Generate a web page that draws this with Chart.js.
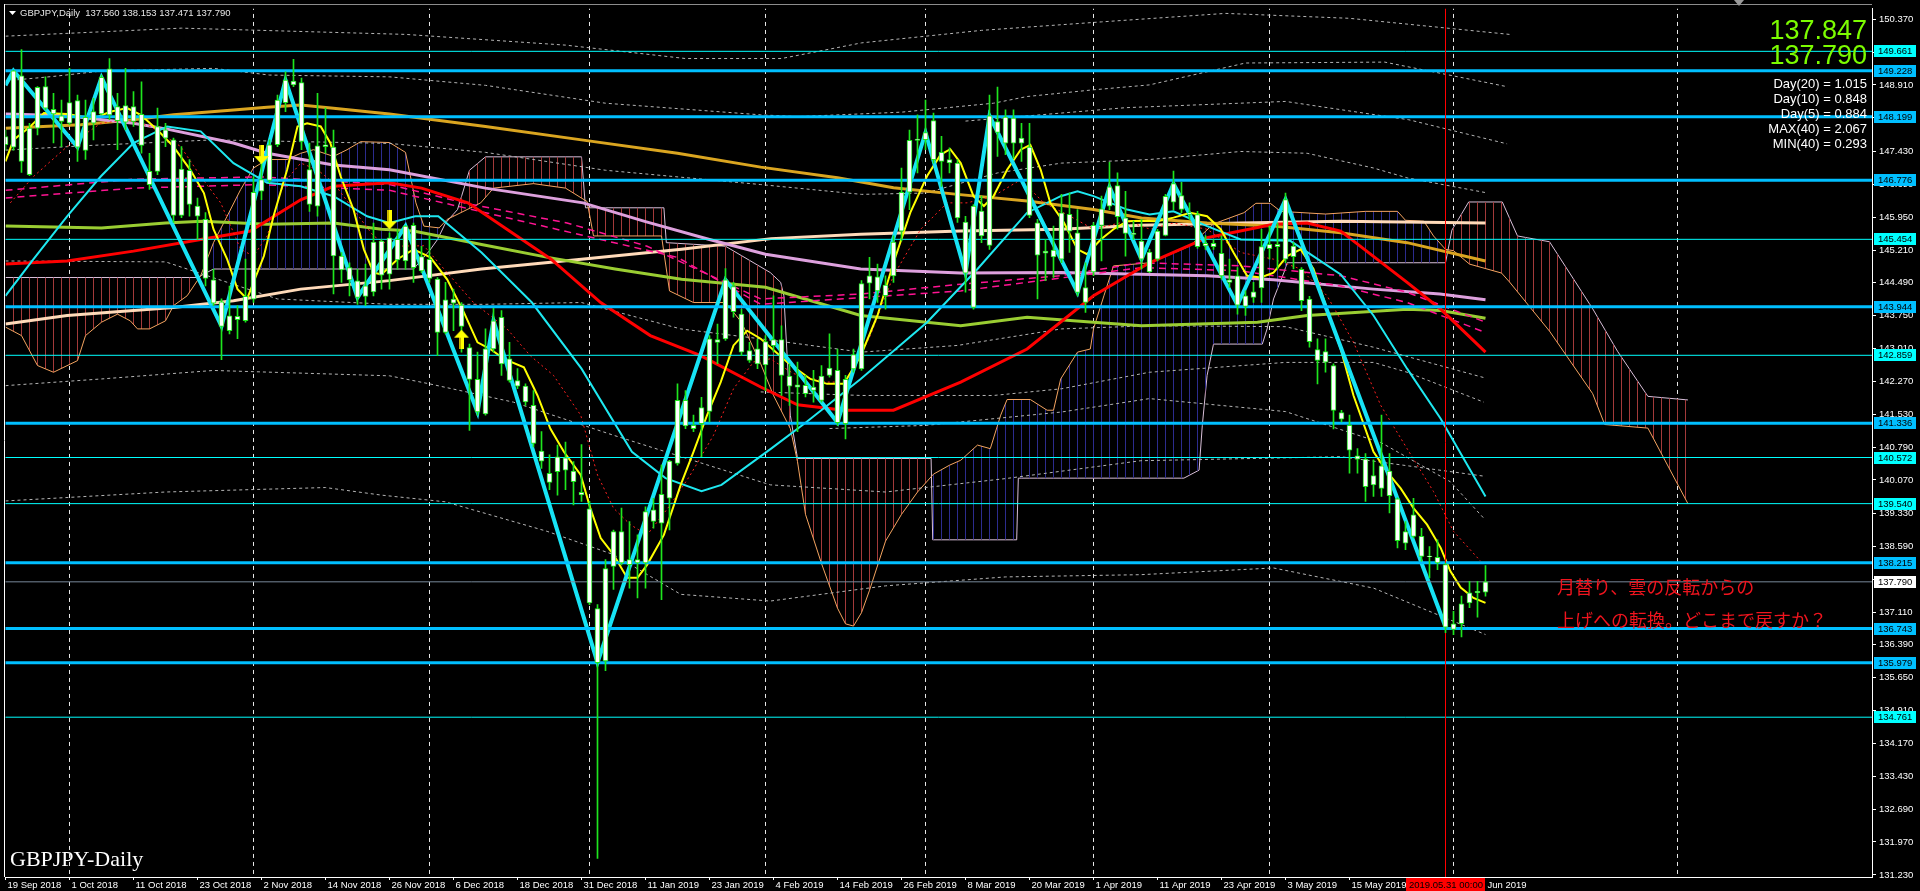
<!DOCTYPE html>
<html>
<head>
<meta charset="utf-8">
<script src="https://cdn.jsdelivr.net/npm/chart.js@4.4.1/dist/chart.umd.min.js"></script>
<style>
  html, body { margin: 0; padding: 0; background: #000; overflow: hidden; }
  canvas { display: block; }
</style>
</head>
<body>
<canvas id="chart" width="1920" height="891"></canvas>
<script>
// ============================================
// DATA — GBPJPY daily candles (bar index 0 = 19 Sep 2018)
// ============================================
const open = [147.755,147.518,149.115,146.901,147.941,148.870,148.364,148.216,148.053,148.558,
147.443,148.312,148.261,149.271,148.112,148.446,148.090,148.253,146.976,146.976,
147.904,147.681,145.988,146.998,146.196,145.899,144.547,144.057,143.411,143.730,
143.633,144.116,146.530,146.775,147.570,148.513,148.996,148.959,147.013,146.196,
147.530,147.518,145.082,144.822,144.525,144.176,144.280,145.416,144.673,145.453,
144.970,145.765,144.747,145.007,144.562,143.373,144.116,143.982,143.032,142.319,
141.546,143.002,143.708,142.779,142.296,142.170,141.739,140.715,140.217,140.254,
140.566,140.269,139.793,139.422,137.194,136.021,138.137,138.917,138.174,138.286,
138.211,139.400,139.103,139.660,140.440,141.851,141.294,141.331,141.606,143.210,
143.225,144.398,143.782,142.965,142.668,143.165,143.077,143.211,142.394,142.148,
142.186,142.074,142.394,142.408,142.520,141.331,142.557,142.557,144.473,144.614,
144.191,144.637,145.639,146.508,147.667,147.682,148.113,147.199,147.236,147.162,
145.840,143.931,146.085,145.320,148.090,147.607,148.165,147.607,147.518,145.825,
145.142,145.216,145.008,146.011,145.602,144.377,144.726,145.766,146.196,146.657,
145.936,145.587,145.416,145.171,145.008,145.542,146.285,146.433,146.047,146.010,
145.305,145.364,145.141,144.547,144.636,143.953,144.153,144.369,145.245,145.342,
145.008,145.305,144.785,144.116,142.987,142.705,142.631,141.576,141.294,140.611,
140.536,139.957,140.388,139.719,139.645,138.657,139.289,138.806,138.368,138.338,
138.174,136.726,136.852,137.320,137.543,137.560];
const high = [147.90,149.24,149.70,148.05,148.87,149.09,148.72,148.57,149.28,148.68,
148.57,148.61,149.13,149.50,148.72,149.28,148.76,148.98,147.38,148.39,
148.05,147.72,147.53,147.24,146.38,146.05,144.79,144.12,144.41,143.97,
145.01,146.86,147.38,147.68,148.68,149.20,149.48,149.06,147.61,148.72,
148.39,147.90,145.16,144.93,144.79,144.90,145.82,145.45,145.60,145.68,
145.76,145.82,145.30,145.53,144.60,144.49,144.34,144.04,143.11,142.93,
143.45,143.91,143.86,143.15,142.56,142.22,142.07,141.15,140.63,140.85,
140.92,140.48,140.86,139.59,137.28,138.29,138.95,139.44,139.14,138.84,
139.47,139.66,140.40,140.51,142.22,142.07,141.52,141.92,143.30,143.56,
144.80,144.49,143.89,143.15,143.22,143.30,144.19,143.52,142.67,142.71,
142.41,142.52,142.63,143.34,143.00,142.41,143.00,144.53,145.05,144.90,
144.64,145.53,147.05,147.90,148.24,148.57,148.28,147.76,147.50,147.24,
145.97,146.23,146.42,148.68,148.86,148.35,148.35,148.05,148.05,145.90,
145.45,145.75,146.46,146.49,146.12,144.93,145.83,146.42,147.18,146.94,
146.53,145.86,145.90,145.23,145.68,146.46,146.98,146.73,146.27,146.08,
145.54,145.45,145.53,145.01,144.82,144.30,144.49,145.68,145.75,145.82,
146.49,145.38,144.82,144.18,143.23,143.23,142.67,141.63,141.52,140.77,
140.66,140.52,141.52,140.66,139.67,139.14,139.66,138.99,138.58,138.73,
138.21,137.13,137.47,137.80,137.80,138.153];
const low = [147.45,147.45,146.95,146.88,147.79,148.35,147.61,147.53,148.02,147.20,
147.24,147.68,148.24,148.13,147.46,147.90,147.98,147.38,146.57,146.90,
147.53,145.83,145.94,145.97,145.45,144.41,143.97,142.76,143.34,143.23,
143.60,144.04,146.34,146.72,147.53,148.31,148.87,147.46,146.08,145.97,
147.38,144.23,144.49,144.19,144.00,143.97,144.19,144.34,144.34,144.78,
144.78,144.49,144.71,144.49,142.85,143.34,143.41,142.93,141.18,141.52,
141.52,142.93,142.41,142.26,142.11,141.74,140.81,140.33,139.85,139.73,
139.85,139.51,139.59,137.28,131.60,135.80,137.62,138.17,137.65,137.43,
137.65,138.99,137.39,138.95,140.40,141.22,141.15,140.59,141.37,142.67,
143.19,143.71,142.85,142.70,142.56,142.07,142.93,141.96,141.74,141.15,
141.93,141.81,141.81,142.37,141.29,140.99,142.48,142.52,144.12,144.04,
143.89,144.49,145.42,146.12,146.94,147.46,147.16,146.64,146.94,145.83,
144.27,143.89,145.38,145.23,147.31,147.35,147.27,147.20,145.94,144.12,
144.53,144.60,144.93,145.16,144.19,143.82,144.64,144.97,146.12,145.68,
145.08,145.45,144.79,144.71,144.97,145.53,146.12,146.05,145.90,145.25,
145.23,145.23,144.56,144.38,143.78,143.75,144.04,144.04,145.01,144.79,
144.93,144.79,143.86,143.04,142.22,142.48,141.21,141.37,140.22,140.22,
139.59,139.70,139.70,139.33,138.55,138.51,138.77,138.25,137.88,138.06,
136.65,136.61,136.56,137.21,137.00,137.471];
const close = [147.570,149.226,147.198,147.941,148.855,148.387,148.261,148.090,148.513,147.518,
148.186,148.053,149.077,148.238,148.424,148.075,148.424,147.555,146.678,147.978,
147.718,145.988,147.028,146.233,145.973,144.577,144.027,143.507,143.745,143.656,
144.176,146.508,146.790,147.570,148.572,149.018,148.907,147.644,146.233,147.548,
147.570,145.082,144.770,144.547,144.153,144.413,145.394,144.651,145.490,144.993,
145.750,144.822,145.067,144.577,143.373,144.101,144.027,143.507,142.319,141.591,
143.002,143.633,142.668,142.296,142.170,141.814,140.885,140.492,140.016,140.588,
140.291,140.031,139.734,137.320,135.983,138.085,138.917,138.211,138.286,138.211,
139.363,139.140,139.749,140.492,141.851,141.279,141.220,141.687,143.225,143.150,
144.547,143.834,142.928,142.742,143.002,142.646,143.211,142.408,142.171,142.200,
141.999,142.148,141.851,142.572,141.354,142.319,142.876,144.466,144.637,144.302,
144.429,145.394,146.508,147.667,147.697,147.845,147.236,147.400,147.162,145.936,
144.696,146.196,145.528,148.216,147.845,148.187,147.607,147.719,145.988,145.097,
145.194,145.060,146.048,145.639,144.265,144.042,145.766,146.137,146.627,145.959,
145.587,145.565,145.008,144.725,145.639,146.419,146.701,146.122,146.010,145.290,
145.364,145.290,144.636,144.488,143.983,144.190,144.280,145.290,145.342,145.290,
146.344,145.067,144.079,143.166,142.742,142.943,141.628,141.428,140.737,140.536,
139.920,140.165,139.883,140.269,138.709,138.917,138.806,138.360,138.353,138.212,
136.778,136.852,137.298,137.543,137.580,137.790];

// axis labels
const xTickIdx  = [0,8,16,24,32,40,48,56,64,72,80,88,96,104,112,120,128,136,144,152,160,168,176,184];
const xTickText = ['19 Sep 2018','1 Oct 2018','11 Oct 2018','23 Oct 2018','2 Nov 2018','14 Nov 2018',
  '26 Nov 2018','6 Dec 2018','18 Dec 2018','31 Dec 2018','11 Jan 2019','23 Jan 2019','4 Feb 2019',
  '14 Feb 2019','26 Feb 2019','8 Mar 2019','20 Mar 2019','1 Apr 2019','11 Apr 2019','23 Apr 2019',
  '3 May 2019','15 May 2019','27 May 2019','6 Jun 2019'];
const yTicks = [150.370,149.640,148.910,148.170,147.430,146.690,145.950,145.210,144.490,143.750,
  143.010,142.270,141.530,140.790,140.070,139.330,138.590,137.850,137.110,136.390,135.650,134.910,
  134.170,133.430,132.690,131.970,131.230];

// horizontal levels
const hLinesThick = [149.228,148.199,146.776,143.944,141.336,138.215,136.743,135.979];
const hLinesThin  = [149.661,145.454,142.859,140.572,139.540,134.761];
const bidPrice = 137.790;
const separatorIdx = [8,31,53,73,95,115,136,158,181,209];
const markerIdx = 180;   // 2019.05.31

// indicator lines: [barIndex, price]
const zigzag = [[0,148.90],[1,149.226],[9,147.518],[12,149.077],[27,143.507],[35,149.018],[44,144.153],
  [50,145.750],[59,141.591],[61,143.633],[74,135.983],[90,144.547],[104,141.354],[115,147.845],
  [120,144.696],[123,148.216],[134,144.265],[138,146.627],[142,145.008],[146,146.701],[154,143.983],
  [160,146.344],[180,136.778]];
const fastLine = [[0,147.20],[1,147.68],[3.1,147.98],[4.8,148.28],[7.7,148.26],[11,148.16],[13.1,148.31],
  [15.2,148.39],[16.9,148.24],[19,147.90],[21,147.53],[23.1,147.01],[24.8,146.49],[26,145.68],[27.7,145.01],
  [29,144.34],[30.2,144.12],[31,144.49],[32.3,145.08],[33.5,145.97],[35.2,147.01],[36.5,147.98],[37.7,148.05],
  [39.4,147.98],[40.6,147.61],[41.9,146.86],[43.5,146.12],[44.8,145.23],[46,144.71],[47,144.67],[49,145.01],
  [51,145.23],[53.1,145.05],[55.2,144.56],[57.3,143.82],[59,143.15],[60.6,143.00],[62.3,142.78],[64.8,142.59],
  [66.5,141.96],[68.1,141.22],[69.8,140.70],[71.9,140.18],[73.1,139.44],[74.4,138.77],[76,138.40],[77.7,137.88],
  [79,137.88],[80.2,138.17],[82.3,138.84],[84.4,139.96],[86,140.70],[87.7,141.52],[89.4,142.26],[91,143.08],
  [92.7,143.41],[94.4,143.23],[97.7,142.71],[100.6,142.33],[102.7,142.22],[104.8,142.22],[106.9,142.85],
  [109,143.75],[111,144.93],[113.1,146.05],[115.2,146.87],[116.9,147.35],[118.1,147.47],[119.4,147.16],
  [121,146.42],[122.3,146.20],[123.5,146.42],[125.2,147.01],[126.9,147.46],[128.1,147.57],[129.4,147.01],
  [130.6,146.27],[132.3,145.83],[134,145.23],[135.2,145.12],[136.9,145.45],[138.5,145.68],[140.2,145.86],
  [141.9,145.87],[144,145.86],[146,145.94],[148.1,146.05],[150.2,145.97],[151.9,145.68],[153.5,145.16],
  [155.2,144.64],[156.9,144.60],[158.5,144.71],[160.2,145.08],[161.9,145.23],[163.5,144.79],[165.2,143.89],
  [166.9,143.00],[168.5,141.96],[171,140.70],[172.7,140.25],[174.4,139.88],[176,139.44],[177.7,139.07],
  [179.4,138.55],[180.6,138.03],[181.9,137.66],[183.5,137.43],[185,137.32]];
const midLine = [[0,144.19],[3.5,145.01],[7.7,145.97],[11.9,146.86],[16,147.61],[20.2,147.98],[24.4,147.87],
  [28.5,147.16],[32.7,146.72],[36.9,146.64],[41,146.42],[45.2,145.97],[48,145.82],[51.2,145.97],[54.1,145.97],
  [59.5,145.16],[65.8,144.04],[72,142.56],[78.3,140.70],[82.5,140.11],[87,139.82],[89.5,139.96],[95.7,140.77],
  [100,141.35],[106.9,142.33],[115.2,143.60],[121.5,144.79],[127.7,146.05],[131.9,146.42],[134,146.53],
  [136,146.42],[140.2,146.12],[143,146.01],[146,146.08],[150.2,145.75],[154.4,145.45],[160.6,145.42],
  [166.9,144.67],[171,143.75],[175.2,142.56],[179.4,141.44],[185,139.70]];
const dotRed = [[0.6,146.27],[3.5,146.86],[7.7,147.53],[11.9,148.05],[15.2,148.13],[18.1,147.98],[21.9,147.53],
  [24.4,146.86],[26.9,146.27],[29.4,145.23],[31,145.08],[32.7,145.53],[34.8,146.72],[36.9,147.16],[39,147.01],
  [41,146.72],[43.5,146.12],[46,145.53],[48.1,145.30],[52.3,145.31],[55.2,144.71],[58.5,144.04],[62.7,143.45],
  [65.6,142.85],[68.5,142.41],[71.9,141.52],[74,140.18],[76,139.44],[78.1,139.07],[80.2,138.84],[83.1,139.51],
  [85.6,140.18],[88.5,141.07],[91,142.11],[93.5,142.71],[95.6,142.78],[98.5,142.45],[102.7,142.26],
  [105.2,142.26],[108.1,143.30],[111,144.64],[114.4,145.68],[117.7,146.27],[120.2,146.27],[123.5,146.42],
  [126.9,146.79],[129.8,146.27],[133.1,145.97],[136,145.68],[140.2,145.86],[143.1,145.68],[146,145.82],
  [150.2,145.68],[154.4,145.16],[158.5,145.01],[161.9,144.79],[165.2,144.19],[168.5,143.15],[171.9,141.74],
  [175.2,140.77],[178.5,139.81],[181,138.92],[184.4,138.25]];
const redMA = [[0,144.90],[7.7,144.97],[16,145.19],[24.4,145.45],[30.6,145.64],[36.9,146.34],[41,146.64],
  [48,146.72],[52,146.60],[57.8,146.27],[68.2,145.01],[74.4,144.04],[80.6,143.30],[86.9,142.85],[94.4,142.15],
  [99,141.75],[104.8,141.63],[111,141.63],[119.4,142.26],[127.7,143.00],[136,144.19],[143,144.93],
  [150.2,145.49],[158.5,145.79],[162.7,145.82],[166.9,145.64],[175.2,144.49],[179.4,143.89],[185,142.93]];
const greenMA = [[0,145.75],[12,145.71],[20,145.82],[24.6,145.86],[32.7,145.79],[41,145.82],[47,145.68],
  [51,145.64],[59.5,145.34],[67.8,145.05],[76.2,144.79],[84.5,144.56],[95,144.38],[106.9,143.75],
  [119.4,143.52],[127.7,143.71],[136,143.60],[142,143.52],[156.5,143.60],[162.7,143.75],[175.2,143.89],
  [179.4,143.86],[185,143.69]];
const goldMA = [[0,147.94],[9.4,148.02],[16,148.13],[21,148.24],[28.5,148.35],[32.7,148.41],[36.9,148.46],
  [41,148.39],[48,148.26],[60,147.98],[72,147.68],[84,147.38],[94.4,147.07],[104,146.83],[111,146.61],
  [119,146.46],[127.7,146.31],[136,146.12],[142,145.93],[150.2,145.82],[158.5,145.75],[166.9,145.60],
  [175.2,145.38],[185,144.97]];
const plumMA = [[0,148.26],[7.7,148.22],[16,148.05],[20.2,147.92],[28.5,147.61],[32.7,147.38],[41,147.12],
  [48,147.01],[60,146.60],[72.2,146.27],[80,145.85],[88,145.45],[95,145.12],[106.9,144.79],[119.4,144.70],
  [131.9,144.71],[141.9,144.67],[150.2,144.64],[158.5,144.55],[171,144.34],[179.3,144.23],[185,144.10]];
const peachMA = [[0,143.56],[7.7,143.75],[16,143.86],[21,143.93],[28.5,144.08],[36.9,144.34],[48,144.53],
  [59.5,144.79],[72,145.01],[84.5,145.23],[95.7,145.47],[106.9,145.57],[119.4,145.64],[131.9,145.68],
  [141.9,145.77],[154.4,145.82],[166.9,145.86],[185,145.82]];
const pinkDashA = [[0,146.55],[16,146.80],[32,146.85],[48,146.68],[57.3,146.27],[70.2,145.82],[80.2,145.30],
  [94.4,144.12],[106.9,144.23],[119.4,144.45],[131.9,144.64],[141.9,144.93],[154.4,144.86],[166.9,144.64],
  [175.2,144.27],[185,143.60]];
const pinkDashB = [[0,146.38],[16,146.60],[32,146.68],[48,146.55],[60,146.05],[72,145.55],[84,145.05],
  [94.4,144.00],[119.4,144.30],[141.9,144.82],[154.4,144.75],[166.9,144.41],[175.2,144.04],[185,143.37]];

// envelope bands (grey dotted)
const bandU3 = [[0,150.00],[22,150.18],[50,150.04],[70,149.80],[85,149.50],[97,149.50],[107,149.85],
  [122,150.13],[137,150.32],[152.5,150.51],[168,150.40],[188,150.04]];
const bandU2 = [[0,149.00],[6,149.10],[12,149.22],[26,149.28],[33,149.13],[48,149.09],[60,148.90],[75,148.50],
  [94.4,148.24],[99,148.20],[112,148.30],[123.5,148.50],[127.7,148.65],[136,148.80],[143,148.91],[155,149.40],
  [172.4,149.42],[187.7,148.87]];
const bandU1b = [[120,148.10],[140,148.40],[160,148.54],[175.4,148.13],[187.7,147.59]];
const bandU1 = [[0,147.45],[10,147.55],[26,147.68],[48,147.60],[60,147.40],[75,147.00],[94.4,146.68],
  [107,146.46],[115,146.49],[124,146.94],[132,147.16],[143,147.24],[154.4,147.42],[162.7,147.38],[171,147.05],
  [175.2,146.83],[185,146.50]];
const bandL1 = [[0,144.97],[20,144.95],[34,144.12],[48,144.00],[60,144.00],[72,144.04],[84.4,143.45],
  [95.6,143.20],[107,142.93],[119,143.08],[132,143.45],[143,143.52],[160,143.50],[171,143.04],[185,142.35]];
const bandL1b = [[94.4,142.04],[107,141.96],[123.5,141.96],[132,142.11],[143,142.48],[160,142.70],
  [171,142.70],[175.2,142.48],[184.8,141.81]];
const bandL2b = [[103,141.22],[115,141.29],[132,141.59],[143,141.89],[160,141.60],[172,140.90],
  [180.6,140.03],[184.8,139.21]];
const bandL2 = [[0,142.18],[12,142.33],[26,142.52],[48,142.40],[53,142.22],[63.5,141.81],[76,141.07],
  [95.6,139.96],[110,139.80],[125,140.10],[141.9,140.50],[166.9,140.59],[185,140.15]];
const bandL3 = [[0,139.60],[20,139.80],[40,139.90],[47,139.73],[55,139.58],[67.7,138.92],[76,138.40],
  [84.4,137.51],[95.6,137.36],[110,137.70],[125,137.90],[141.9,137.95],[158.5,138.10],[171,137.65],[185,136.61]];

// ichimoku cloud (senkou spans, 26 bars ahead)
const spanA = [[0,143.49],[2,143.30],[4,142.63],[6,142.48],[9,142.74],[10,143.30],[12,143.60],[14,143.78],
  [15.6,143.63],[16.5,143.45],[18,143.45],[20,143.63],[21,143.97],[22.7,144.19],[24.4,144.64],[26,145.38],
  [27.7,145.97],[29.4,146.57],[31,147.05],[32.7,147.24],[35.2,147.24],[36.9,147.38],[38.5,147.46],[41,147.31],
  [42.7,147.46],[44.4,147.64],[48,147.62],[50,147.40],[51.3,146.27],[52.3,145.75],[54.2,145.71],[55.2,145.90],
  [57.7,146.12],[59.4,146.27],[61,146.60],[66,146.70],[70,146.60],[72.7,146.30],[73.5,145.53],[82,145.53],
  [83,144.30],[86,144.04],[90,144.04],[92,143.60],[94.4,142.67],[96,141.96],[98.1,141.22],[99,140.48],
  [100,139.30],[102,138.20],[104,137.20],[105,136.85],[106,136.80],[107,137.10],[108,137.60],[110,138.70],
  [112,139.30],[114,139.80],[116,140.20],[118,140.40],[119.4,140.51],[121.5,140.85],[123.1,140.77],
  [124.4,141.52],[125.2,141.87],[128.1,141.87],[130.2,141.63],[131,141.63],[131.9,142.33],[134,142.93],
  [135.6,143.00],[136,143.45],[137.3,144.19],[138.5,144.86],[143.1,144.93],[148,145.30],[151,145.80],
  [154.8,146.05],[156.3,146.26],[158.1,146.26],[159.4,146.08],[165,146.02],[170,146.08],[174,146.08],
  [175,145.88],[177.3,145.86],[178.5,145.53],[180,145.23],[181,145.20],[183,144.90],[187,144.70],[188,144.50],
  [193,143.40],[198.4,142.00],[199.9,141.31],[205.3,141.23],[210.3,139.54]];
const spanB = [[0,144.60],[24,144.60],[26,144.79],[51,144.79],[53,145.20],[54,145.45],[55,145.82],[56.5,146.12],
  [58,147.00],[60,147.30],[72,147.30],[72.5,146.16],[82.3,146.16],[82.6,145.38],[90,145.30],[95.6,144.71],
  [96.9,144.49],[97.3,144.19],[98.1,141.52],[99,140.55],[115.7,140.55],[115.9,138.73],[126.4,138.73],
  [126.6,140.11],[147.3,140.11],[149.2,140.29],[149.6,141.29],[150.2,142.41],[151,143.11],[157.1,143.11],
  [157.7,143.45],[158.5,144.12],[159.8,144.71],[160.2,144.93],[180,144.93],[180.8,145.66],[182.9,146.29],
  [187.1,146.29],[189,145.53],[190.2,145.49],[193,145.40],[198.4,143.90],[201.5,142.95],[205.3,141.94],
  [210.3,141.86]];

// signal arrows
const arrowsDown = [[32,147.35],[48,145.89]];
const arrowsUp = [[57,143.22]];

const infoLines = ['Day(20) = 1.015','Day(10) = 0.848','Day(5) = 0.884','MAX(40) = 2.067','MIN(40) = 0.293'];
const noteLines = ['月替り、雲の反転からの','上げへの転換。どこまで戻すか？'];

// ============================================
// HELPERS
// ============================================
const FONT = '"Liberation Sans", Arial, sans-serif';
Chart.defaults.font.family = FONT;
const canvas = document.getElementById('chart');
const mainCtx = canvas.getContext('2d');
const pts = arr => arr.map(p => ({x: p[0], y: p[1]}));

function lineDs(data, color, width, order, extra) {
    return Object.assign({
        type: 'line', data: pts(data), borderColor: color, borderWidth: width,
        pointRadius: 0, tension: 0, fill: false, order: order, clip: 0
    }, extra || {});
}

function hatch(color) {
    const c = document.createElement('canvas');
    c.width = 8; c.height = 4;
    const g = c.getContext('2d');
    g.fillStyle = color;
    g.fillRect(5, 0, 1, 4);
    return mainCtx.createPattern(c, 'repeat');
}

function arrowImg(up) {
    const c = document.createElement('canvas');
    c.width = 15; c.height = 19;
    const g = c.getContext('2d');
    g.fillStyle = '#ffff00';
    g.beginPath();
    if (up) {
        g.moveTo(7.5, 0); g.lineTo(15, 8); g.lineTo(10, 8); g.lineTo(10, 19); g.lineTo(5, 19); g.lineTo(5, 8); g.lineTo(0, 8);
    } else {
        g.moveTo(7.5, 19); g.lineTo(15, 11); g.lineTo(10, 11); g.lineTo(10, 0); g.lineTo(5, 0); g.lineTo(5, 11); g.lineTo(0, 11);
    }
    g.closePath(); g.fill();
    g.fillStyle = '#c8b400';
    g.fillRect(5, up ? 8 : 0, 2, 11);
    return c;
}

// ============================================
// DATASETS
// ============================================
const datasets = [];
const idx = open.map((_, i) => i);

datasets.push({
    type: 'bar', data: idx.map(i => ({x: i, y: [open[i], close[i]]})),
    backgroundColor: '#ffffff', borderColor: '#1ee61e', borderWidth: 1, borderSkipped: false,
    barThickness: 5, grouped: false, order: 0, clip: 0
});
datasets.push({
    type: 'bar', data: idx.map(i => ({x: i, y: [low[i], high[i]]})),
    backgroundColor: '#1ee61e', borderWidth: 0, barThickness: 1, grouped: false, order: 1, clip: 0
});

datasets.push(lineDs(zigzag, '#17e3f5', 4, 5));
datasets.push(lineDs(fastLine, '#ffff00', 2, 6));
datasets.push(lineDs(dotRed, '#ff2020', 1, 7, {borderDash: [2, 3]}));
datasets.push(lineDs(midLine, '#1ee8f0', 2, 8));
datasets.push(lineDs(redMA, '#ff0000', 3, 9));
datasets.push(lineDs(pinkDashA, '#ff1493', 1.5, 10, {borderDash: [7, 5]}));
datasets.push(lineDs(pinkDashB, '#ff1493', 1.5, 10, {borderDash: [7, 5]}));
datasets.push(lineDs(greenMA, '#9acd32', 3, 11));
datasets.push(lineDs(plumMA, '#dda0dd', 3, 11));
datasets.push(lineDs(goldMA, '#daa520', 3, 11));
datasets.push(lineDs(peachMA, '#ffdab9', 3, 11));

[bandU3, bandU2, bandU1b, bandU1, bandL1, bandL1b, bandL2b, bandL2, bandL3].forEach(b =>
    datasets.push(lineDs(b, '#b4b4b4', 1, 12, {borderDash: [3, 3]})));

hLinesThick.forEach(v => datasets.push(lineDs([[-5, v], [240, v]], '#00bfff', 3, 4)));
hLinesThin.forEach(v => datasets.push(lineDs([[-5, v], [240, v]], '#00ffff', 1, 4)));
datasets.push(lineDs([[-5, bidPrice], [240, bidPrice]], '#778899', 1, 4));

// cloud: span A filled against span B with vertical hatching
datasets.push(lineDs(spanA, '#f4a460', 1, 40, {
    fill: {target: '+1', above: hatch('#2c2c8e'), below: hatch('#a33a3a')}
}));
datasets.push(lineDs(spanB, '#d8bfd8', 1, 41));

separatorIdx.forEach(i => datasets.push(lineDs([[i, 130], [i, 152]], '#e8e8e8', 1, 50, {borderDash: [4, 4]})));
datasets.push(lineDs([[markerIdx, 130], [markerIdx, 152]], '#ff0000', 1, 3));

datasets.push({
    type: 'line', data: pts(arrowsDown), showLine: false, pointStyle: arrowImg(false), order: -1, clip: 0
});
datasets.push({
    type: 'line', data: pts(arrowsUp), showLine: false, pointStyle: arrowImg(true), order: -1, clip: 0
});

// ============================================
// OVERLAY — price boxes, texts, frame
// ============================================
const overlay = {
    id: 'overlay',
    afterDraw(chart) {
        const {ctx} = chart;
        const ys = chart.scales.y;
        ctx.save();
        ctx.lineWidth = 1;
        ctx.strokeStyle = '#8c8c8c';
        ctx.beginPath(); ctx.moveTo(4, 4.5); ctx.lineTo(1872, 4.5); ctx.stroke();
        ctx.strokeStyle = '#ffffff';
        ctx.beginPath(); ctx.moveTo(4.5, 4); ctx.lineTo(4.5, 877); ctx.stroke();

        // price boxes on the axis
        ctx.font = '9.5px ' + FONT;
        ctx.textBaseline = 'middle';
        ctx.textAlign = 'left';
        const box = (v, bg) => {
            const py = Math.round(ys.getPixelForValue(v));
            ctx.fillStyle = bg;
            ctx.fillRect(1874, py - 6, 42, 12);
            ctx.fillStyle = '#000000';
            ctx.fillText(v.toFixed(3), 1878, py + 0.5);
        };
        hLinesThick.forEach(v => box(v, '#00bfff'));
        hLinesThin.forEach(v => box(v, '#00ffff'));
        box(bidPrice, '#ffffff');

        // time marker label
        ctx.fillStyle = '#ff0000';
        ctx.fillRect(1406, 878, 79, 13);
        ctx.fillStyle = '#000000';
        ctx.fillText('2019.05.31 00:00', 1409, 885);

        // title
        ctx.fillStyle = '#ffffff';
        ctx.beginPath(); ctx.moveTo(9, 11); ctx.lineTo(16, 11); ctx.lineTo(12.5, 15); ctx.closePath(); ctx.fill();
        ctx.fillStyle = '#e6e6e6';
        ctx.font = '9.5px ' + FONT;
        ctx.fillText('GBPJPY,Daily  137.560 138.153 137.471 137.790', 20, 13);

        // shift marker
        ctx.fillStyle = '#9a9a9a';
        ctx.beginPath(); ctx.moveTo(1734, 0); ctx.lineTo(1744, 0); ctx.lineTo(1739, 6); ctx.closePath(); ctx.fill();

        // big prices + stats
        ctx.textAlign = 'right';
        ctx.fillStyle = '#7cfc00';
        ctx.font = '27px ' + FONT;
        ctx.fillText('137.847', 1867, 32);
        ctx.fillText('137.790', 1867, 57);
        ctx.fillStyle = '#ffffff';
        ctx.font = '13px ' + FONT;
        infoLines.forEach((t, i) => ctx.fillText(t, 1867, 84 + i * 15));

        // note
        ctx.textAlign = 'left';
        ctx.fillStyle = '#f0141e';
        ctx.font = '18px "Noto Sans CJK JP"';
        noteLines.forEach((t, i) => ctx.fillText(t, 1557, 587 + i * 33));

        // symbol caption
        ctx.fillStyle = '#ffffff';
        ctx.font = '22px "Liberation Serif", serif';
        ctx.textBaseline = 'alphabetic';
        ctx.fillText('GBPJPY-Daily', 10, 866);
        ctx.restore();
    }
};

// ============================================
// CHART
// ============================================
new Chart(canvas, {
    type: 'line',
    data: {datasets: datasets},
    options: {
        responsive: false,
        animation: false,
        events: [],
        layout: {padding: {left: 5.5, top: 5, right: 0, bottom: 0}},
        plugins: {legend: {display: false}, tooltip: {enabled: false}},
        scales: {
            x: {
                type: 'linear', min: 0, max: 233.3125, offset: false,
                afterFit: s => { s.height = 14; },
                afterBuildTicks: s => { s.ticks = xTickIdx.map(v => ({value: v})); },
                ticks: {
                    autoSkip: false, maxRotation: 0, minRotation: 0, align: 'start',
                    color: '#ffffff', font: {size: 9.5}, padding: 0, labelOffset: 2,
                    callback: (v, i) => xTickText[i]
                },
                grid: {drawOnChartArea: false, tickLength: 3, color: '#ffffff', offset: false},
                border: {color: '#ffffff'}
            },
            y: {
                type: 'linear', position: 'right', min: 131.185, max: 150.615,
                afterFit: s => { s.width = 48; },
                afterBuildTicks: s => { s.ticks = yTicks.map(v => ({value: v})); },
                ticks: {
                    autoSkip: false, color: '#ffffff', font: {size: 9.5}, padding: 3,
                    callback: v => v.toFixed(3)
                },
                grid: {drawOnChartArea: false, tickLength: 4, color: '#ffffff'},
                border: {color: '#ffffff'}
            }
        }
    },
    plugins: [overlay]
});
</script>
</body>
</html>
